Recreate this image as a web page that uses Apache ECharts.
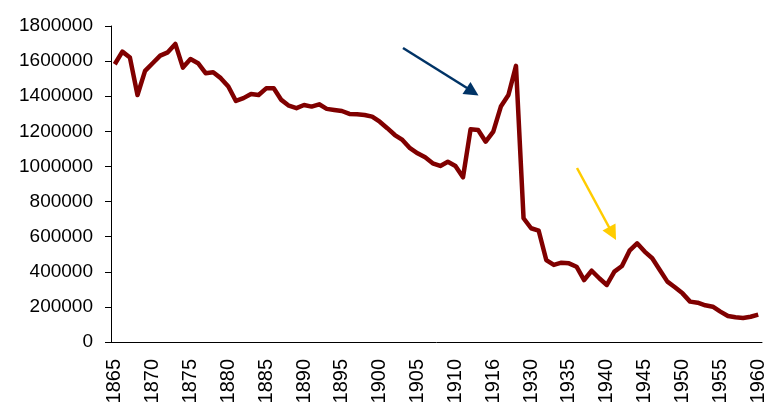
<!DOCTYPE html>
<html>
<head>
<meta charset="utf-8">
<script src="https://cdn.jsdelivr.net/npm/echarts@6/dist/echarts.min.js"></script>
<style>
    html, body { margin: 0; padding: 0; background: #fff; }
    #zf { width: 766px; height: 403px; }
</style>
</head>
<body>
<div id="zf"></div>
<script>
// years on the category axis (gaps in the record: 1914, 1917-1925)
var years = [];
for (var y = 1865; y <= 1913; y++) years.push(String(y));
years = years.concat(['1915', '1916', '1926', '1927', '1928', '1929']);
for (var y2 = 1930; y2 <= 1960; y2++) years.push(String(y2));

var values = [
    1582000, 1654000, 1620000, 1407000, 1544000, 1588000, 1631000, 1650000, 1698000, 1563000,
    1612000, 1588000, 1531000, 1537000, 1503000, 1455000, 1373000, 1389000, 1413000, 1407000,
    1445000, 1445000, 1379000, 1346000, 1332000, 1350000, 1341000, 1354000, 1328000, 1322000,
    1316000, 1299000, 1297000, 1293000, 1284000, 1255000, 1218000, 1179000, 1151000, 1104000,
    1075000, 1052000, 1018000, 1003000, 1027000, 1003000, 938000, 1212000, 1208000, 1141000,
    1198000, 1341000, 1407000, 1573000, 705000, 648000, 634000, 467000, 439000, 452000,
    448000, 429000, 353000, 406000, 363000, 325000, 401000, 433000, 520000, 562000,
    515000, 477000, 410000, 344000, 312000, 277000, 230000, 224000, 209000, 201000,
    173000, 148000, 141000, 137000, 144000, 156000
];

var yMin = 0, yMax = 1800000, yStep = 200000;

var myChart = echarts.init(document.getElementById('zf'));

var font = 'Liberation Sans, Arial, sans-serif';

var option = {
    animation: false,
    backgroundColor: '#fff',
    grid: { left: 111, right: 4, top: 26, bottom: 61, outerBoundsMode: 'none', containLabel: false },
    xAxis: {
        type: 'category',
        data: years,
        boundaryGap: true,
        axisLine: { lineStyle: { color: '#000', width: 1 } },
        axisTick: { interval: 0, length: 4, lineStyle: { color: '#000' } },
        axisLabel: {
            interval: 4,
            rotate: 90,
            margin: 17,
            color: '#000',
            fontSize: 20,
            fontFamily: font
        },
        splitLine: { show: false }
    },
    yAxis: {
        type: 'value',
        min: yMin,
        max: yMax,
        interval: yStep,
        axisLine: { show: true, lineStyle: { color: '#000', width: 1 } },
        axisTick: { show: true, length: 6, lineStyle: { color: '#000' } },
        axisLabel: {
            margin: 18,
            color: '#000',
            fontSize: 19,
            fontFamily: font,
            formatter: function (v) { return String(v); }
        },
        splitLine: { show: false }
    },
    series: [{
        type: 'line',
        data: values,
        symbol: 'none',
        lineStyle: { color: '#800000', width: 4.5, join: 'round' }
    }],
    // the two annotation arrows
    graphic: [
        { type: 'line', shape: { x1: 403, y1: 48, x2: 467, y2: 88 }, style: { stroke: '#003366', lineWidth: 2.5 } },
        { type: 'polygon', shape: { points: [[478.5, 95.5], [462.5, 94], [470.5, 82]] }, style: { fill: '#003366' } },
        { type: 'line', shape: { x1: 577, y1: 168, x2: 610, y2: 229 }, style: { stroke: '#FFCC00', lineWidth: 2.5 } },
        { type: 'polygon', shape: { points: [[616, 240], [602.5, 230.5], [615.5, 223.5]] }, style: { fill: '#FFCC00' } }
    ]
};

myChart.setOption(option);
</script>
</body>
</html>
